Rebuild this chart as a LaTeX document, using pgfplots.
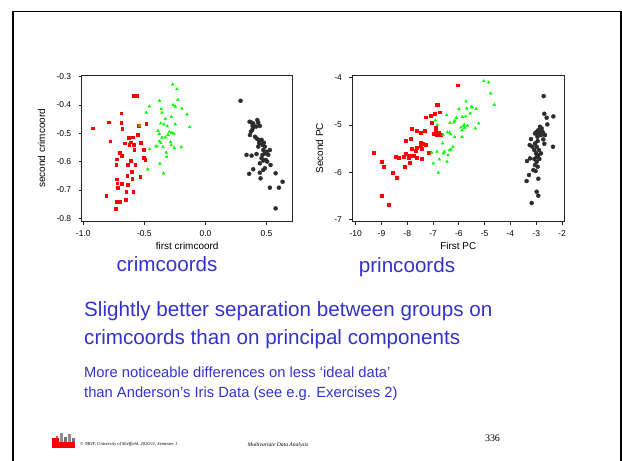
\documentclass[border=0pt]{standalone}
\usepackage{pgfplots}
\pgfplotsset{compat=1.18}
\usepackage{fontspec}
\setmainfont{Liberation Sans}
\newfontfamily\seriffont{Liberation Serif}
\definecolor{slideblue}{RGB}{51,51,204}
\definecolor{dotgrey}{RGB}{45,45,45}

\pgfplotsset{rplot/.style={
    scale only axis, width=211bp, height=146.7bp,
    axis line style={black!85, line width=0.8bp},
    tick align=outside, xtick pos=bottom, ytick pos=left,
    major tick length=3bp, tick style={black!85, line width=0.7bp},
    tick label style={font=\fontsize{8.5}{10}\selectfont},
    yticklabel style={xshift=-4bp},
    xticklabel style={yshift=-2bp},
    label style={font=\fontsize{10}{12}\selectfont},
    /pgf/number format/assume math mode=true,
    grp1/.style={only marks, mark=square*, mark size=1.4bp, color=red},
    grp2/.style={only marks, mark=triangle*, mark size=1.6bp, color=green},
    grp3/.style={only marks, mark=*, mark size=2bp, color=dotgrey},
}}

\begin{document}
\begin{tikzpicture}[x=1bp,y=1bp]
\path[use as bounding box] (0,0) rectangle (622,461);
\fill[white] (0,0) rectangle (622,461);
% slide frame
\draw[line width=1.6bp] (12.8,0) -- (12.8,449.6) -- (620.8,449.6) -- (620.8,0);

% ---- crimcoords ----
\begin{axis}[rplot, at={(81.7bp,239.3bp)}, anchor=south west,
    xmin=-1.013, xmax=0.714, ymin=-0.812, ymax=-0.294,
    xtick={-1,-0.5,0,0.5}, ytick={-0.8,-0.7,-0.6,-0.5,-0.4,-0.3},
    /pgf/number format/.cd, fixed, fixed zerofill, precision=1, /pgfplots/.cd,
    xlabel={first crimcoord}, ylabel={second crimcoord},
    xlabel style={at={(axis description cs:0.5,-0.165)}, anchor=center},
    ylabel style={at={(axis description cs:-0.19,0.5)}, anchor=center},
]
\addplot[grp1] coordinates {
(-0.588,-0.368) (-0.561,-0.366) (-0.689,-0.429) (-0.793,-0.461) (-0.689,-0.462)
(-0.547,-0.472) (-0.485,-0.466) (-0.924,-0.482) (-0.681,-0.484) (-0.555,-0.504)
(-0.596,-0.514) (-0.629,-0.516) (-0.779,-0.528) (-0.659,-0.535) (-0.615,-0.531)
(-0.624,-0.541) (-0.588,-0.540) (-0.531,-0.532) (-0.583,-0.559) (-0.504,-0.558)
(-0.705,-0.568) (-0.686,-0.580) (-0.727,-0.591) (-0.610,-0.596) (-0.506,-0.587)
(-0.493,-0.594) (-0.730,-0.612) (-0.637,-0.611) (-0.575,-0.611) (-0.602,-0.635)
(-0.640,-0.649) (-0.534,-0.653) (-0.599,-0.661) (-0.727,-0.662) (-0.722,-0.676)
(-0.686,-0.678) (-0.716,-0.691) (-0.635,-0.680) (-0.591,-0.705) (-0.648,-0.707)
(-0.812,-0.719) (-0.730,-0.741) (-0.705,-0.742) (-0.654,-0.735) (-0.733,-0.765)
};
\addplot[grp2] coordinates {
(-0.269,-0.327) (-0.234,-0.344) (-0.376,-0.385) (-0.226,-0.382) (-0.460,-0.405)
(-0.264,-0.400) (-0.247,-0.406) (-0.362,-0.414) (-0.356,-0.427) (-0.485,-0.427)
(-0.193,-0.413) (-0.152,-0.433) (-0.280,-0.442) (-0.329,-0.449) (-0.367,-0.465)
(-0.340,-0.468) (-0.247,-0.468) (-0.130,-0.478) (-0.539,-0.472) (-0.313,-0.475)
(-0.389,-0.491) (-0.378,-0.502) (-0.296,-0.495) (-0.275,-0.498) (-0.258,-0.501)
(-0.307,-0.506) (-0.356,-0.515) (-0.329,-0.514) (-0.378,-0.528) (-0.365,-0.534)
(-0.285,-0.531) (-0.280,-0.542) (-0.405,-0.546) (-0.397,-0.546) (-0.348,-0.548)
(-0.256,-0.551) (-0.198,-0.549) (-0.457,-0.556) (-0.321,-0.568) (-0.318,-0.582)
(-0.373,-0.607) (-0.474,-0.627) (-0.343,-0.641)
};
\addplot[grp3] coordinates {
(0.287,-0.385) (0.361,-0.459) (0.377,-0.462) (0.424,-0.453) (0.432,-0.462)
(0.445,-0.474) (0.415,-0.476) (0.391,-0.479) (0.383,-0.488) (0.372,-0.494)
(0.364,-0.506) (0.405,-0.512) (0.418,-0.518) (0.435,-0.523) (0.445,-0.529)
(0.459,-0.523) (0.478,-0.533) (0.440,-0.535) (0.467,-0.541) (0.486,-0.547)
(0.473,-0.559) (0.500,-0.565) (0.527,-0.559) (0.486,-0.571) (0.514,-0.576)
(0.336,-0.576) (0.377,-0.579) (0.418,-0.573) (0.459,-0.588) (0.494,-0.594)
(0.505,-0.600) (0.473,-0.596) (0.445,-0.606) (0.533,-0.612) (0.486,-0.623)
(0.391,-0.627) (0.473,-0.629) (0.445,-0.639) (0.358,-0.643) (0.574,-0.641)
(0.451,-0.659) (0.631,-0.671) (0.527,-0.692) (0.601,-0.692) (0.574,-0.765)
(0.391,-0.465) (0.386,-0.474) (0.432,-0.547) (0.467,-0.576)
};
\end{axis}

% ---- princoords ----
\begin{axis}[rplot, at={(352.3bp,239.3bp)}, anchor=south west, width=212bp,
    xmin=-10.13, xmax=-1.91, ymin=-7.05, ymax=-3.94,
    xtick={-10,-9,...,-2}, ytick={-7,-6,-5,-4},
    xlabel={First PC}, ylabel={Second PC},
    xlabel style={at={(axis description cs:0.5,-0.165)}, anchor=center},
    ylabel style={at={(axis description cs:-0.155,0.5)}, anchor=center},
]
\addplot[grp1] coordinates {
(-6.859,-4.565) (-6.808,-4.572) (-6.730,-4.727) (-6.950,-4.762) (-7.299,-4.833)
(-7.105,-4.798) (-7.053,-4.953) (-6.898,-5.059) (-7.829,-5.087) (-7.648,-5.115)
(-7.480,-5.158) (-7.338,-5.122) (-6.911,-5.144) (-6.769,-5.158) (-6.976,-5.193)
(-6.859,-5.214) (-6.691,-5.200) (-7.868,-5.292) (-8.048,-5.334) (-7.467,-5.376)
(-7.389,-5.405) (-7.286,-5.419) (-7.493,-5.433) (-7.635,-5.482) (-7.816,-5.511)
(-7.687,-5.553) (-7.441,-5.511) (-7.183,-5.581) (-8.061,-5.616) (-7.958,-5.645)
(-7.868,-5.659) (-7.764,-5.659) (-7.648,-5.701) (-8.139,-5.666) (-7.945,-5.701)
(-7.428,-5.722) (-8.449,-5.673) (-8.346,-5.701) (-9.289,-5.581) (-7.893,-5.793)
(-8.113,-5.885) (-9.005,-5.786) (-8.901,-5.878) (-8.578,-6.012) (-8.423,-6.111)
(-8.979,-6.499) (-8.733,-6.689) (-6.058,-4.155)
};
\addplot[grp2] coordinates {
(-5.037,-4.071) (-4.843,-4.099) (-4.765,-4.332) (-4.624,-4.572) (-5.722,-4.501)
(-5.994,-4.664) (-5.696,-4.650) (-5.515,-4.614) (-5.476,-4.628) (-5.334,-4.656)
(-6.472,-4.791) (-5.567,-4.755) (-5.864,-4.826) (-5.735,-4.819) (-6.097,-4.847)
(-6.161,-4.911) (-6.343,-4.953) (-6.200,-4.946) (-5.231,-4.967) (-5.787,-4.995)
(-5.813,-5.016) (-5.657,-5.016) (-5.916,-5.052) (-5.774,-5.059) (-5.360,-5.073)
(-5.877,-5.115) (-6.355,-5.158) (-6.446,-5.158) (-6.316,-5.193) (-6.614,-5.207)
(-6.161,-5.256) (-5.877,-5.256) (-6.627,-5.391) (-6.226,-5.461) (-6.304,-5.518)
(-6.355,-5.532) (-6.562,-5.567) (-6.911,-4.904) (-6.834,-5.002) (-7.053,-5.588)
(-6.847,-5.567) (-6.756,-5.729) (-6.989,-5.814) (-6.795,-6.012) (-6.601,-5.602)
(-6.459,-5.779) (-6.420,-5.640)
};
\addplot[grp3] coordinates {
(-2.711,-4.388) (-2.685,-4.762) (-2.594,-4.847) (-2.336,-4.819) (-2.569,-4.988)
(-2.853,-5.038) (-2.788,-5.073) (-2.918,-5.108) (-2.982,-5.144) (-3.047,-5.179)
(-2.853,-5.179) (-2.724,-5.179) (-2.659,-5.214) (-2.814,-5.214) (-2.943,-5.214)
(-3.202,-5.299) (-2.943,-5.341) (-2.724,-5.306) (-3.047,-5.391) (-3.253,-5.426)
(-3.150,-5.461) (-2.982,-5.461) (-2.685,-5.398) (-2.349,-5.461) (-3.073,-5.532)
(-2.892,-5.532) (-2.814,-5.602) (-2.918,-5.638) (-2.982,-5.673) (-3.240,-5.708)
(-3.357,-5.765) (-3.073,-5.722) (-2.982,-5.779) (-3.047,-5.849) (-2.943,-5.885)
(-3.111,-5.955) (-3.021,-5.976) (-3.279,-6.061) (-2.918,-6.139) (-3.370,-6.188)
(-2.982,-6.414) (-2.918,-6.499) (-3.176,-6.654) (-2.870,-5.120) (-2.760,-5.140)
(-2.950,-5.250) (-3.000,-5.600) (-2.880,-5.720)
};
\end{axis}

% ---- slide text ----
\node[anchor=base, inner sep=0, text=slideblue, font=\fontsize{20.7}{24}\selectfont] at (167,189.2) {crimcoords};
\node[anchor=base, inner sep=0, text=slideblue, font=\fontsize{20.7}{24}\selectfont] at (407,188.6) {princoords};
\node[anchor=base west, inner sep=0, text=slideblue, font=\fontsize{20.7}{24}\selectfont] at (84,144.5) {Slightly better separation between groups on};
\node[anchor=base west, inner sep=0, text=slideblue, font=\fontsize{20.7}{24}\selectfont] at (84,116.8) {crimcoords than on principal components};
\node[anchor=base west, inner sep=0, text=slideblue, font=\fontsize{14.8}{17}\selectfont] at (84,83.7) {More noticeable differences on less ‘ideal data’};
\node[anchor=base west, inner sep=0, text=slideblue, font=\fontsize{14.8}{17}\selectfont] at (84,63.3) {than Anderson’s Iris Data (see e.g. Exercises 2)};

% ---- footer ----
\fill[black!45] (60,18) rectangle (63,28);
\fill[black!55] (64,18) rectangle (67,24);
\fill[black!45] (68,18) rectangle (71,27);
\fill[black!55] (72,18) rectangle (75,23);
\fill[red] (52,13) rectangle (75,19);
\fill[red] (52,19) rectangle (59,23);
\fill[red!70] (56,23) rectangle (58,25);
\node[anchor=base west, inner sep=0, font=\seriffont\itshape\fontsize{4.6}{5}\selectfont] at (80,15.5) {© NRJF, University of Sheffield, 2010/11, Semester 1};
\node[anchor=base, inner sep=0, font=\seriffont\itshape\fontsize{5.6}{6}\selectfont] at (278,14) {Multivariate Data Analysis};
\node[anchor=base, inner sep=0, font=\seriffont\fontsize{10}{12}\selectfont] at (492.5,19.5) {336};
\end{tikzpicture}
\end{document}
